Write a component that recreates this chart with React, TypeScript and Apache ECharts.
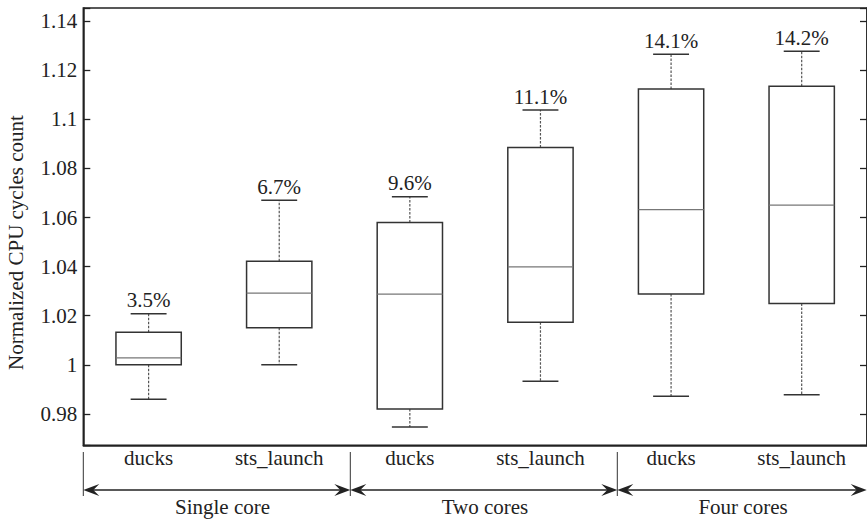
import React, { useEffect, useRef } from "react";
import * as echarts from "echarts";

// Configurations along the x axis, grouped by core count
const categoryLabels = ["ducks", "sts_launch", "ducks", "sts_launch", "ducks", "sts_launch"];
const groupLabels = ["Single core", "Two cores", "Four cores"];

// Five-number summaries of normalized CPU cycle counts
const whiskerLow = [0.986, 1.0, 0.9747, 0.9933, 0.9872, 0.9878];
const boxLow = [1.0, 1.0151, 0.982, 1.0173, 1.0289, 1.025];
const medians = [1.0028, 1.0292, 1.0288, 1.0399, 1.0632, 1.0651];
const boxHigh = [1.0133, 1.0422, 1.058, 1.0886, 1.1124, 1.1135];
const whiskerHigh = [1.0208, 1.0671, 1.0685, 1.1038, 1.1266, 1.1278];

const yMin = 0.9672;
const yMax = 1.1454;
const yStep = 0.02;

const FONT = "Liberation Serif, serif";
const FS = 21;
const INK = "#222";

// spread between the highest and lowest whisker, as a percentage
const spreadLabel = (i: number) =>
  ((whiskerHigh[i] / whiskerLow[i] - 1) * 100).toFixed(1) + "%";

const tickFormatter = (v: number) => {
  const k = v / yStep;
  return Math.abs(k - Math.round(k)) < 1e-6 ? String(+v.toFixed(2)) : "";
};

function arrowHead(tipX: number, y: number, dir: number) {
  // dir = -1 points left, +1 points right
  const L = 16;
  const h = 6;
  const n = 10;
  return {
    type: "polygon",
    shape: {
      points: [
        [tipX, y],
        [tipX - dir * L, y - h],
        [tipX - dir * n, y],
        [tipX - dir * L, y + h],
      ],
    },
    style: { fill: INK },
    silent: true,
  };
}

export default function App() {
  const ref = useRef<HTMLDivElement>(null);

  useEffect(() => {
    if (!ref.current) return;
    const chart = echarts.init(ref.current, undefined, { renderer: "svg" });

    const data = categoryLabels.map((_, i) => [
      i,
      whiskerLow[i],
      boxLow[i],
      medians[i],
      boxHigh[i],
      whiskerHigh[i],
    ]);

    const sepX = [83.3, 350.3, 617.3];
    const arrowY = 490;
    const spans: [number, number][] = [
      [83.3, 350.3],
      [350.3, 617.3],
      [617.3, 866.7],
    ];
    const groupCenters = [222.5, 485, 743];

    const graphics: any[] = [];
    sepX.forEach((x) => {
      graphics.push({
        type: "line",
        shape: { x1: x, y1: 452, x2: x, y2: 496 },
        style: { stroke: "#333", lineWidth: 1 },
        silent: true,
      });
    });
    spans.forEach(([a, b]) => {
      graphics.push({
        type: "line",
        shape: { x1: a + 8, y1: arrowY, x2: b - 8, y2: arrowY },
        style: { stroke: INK, lineWidth: 1.3 },
        silent: true,
      });
      graphics.push(arrowHead(a, arrowY, -1));
      graphics.push(arrowHead(b, arrowY, 1));
    });
    groupLabels.forEach((t, i) => {
      graphics.push({
        type: "text",
        x: groupCenters[i],
        y: 506.7,
        style: {
          text: t,
          fontSize: FS,
          fontFamily: FONT,
          fill: INK,
          align: "center",
          verticalAlign: "middle",
        },
        silent: true,
      });
    });
    graphics.push({
      type: "text",
      x: 16,
      y: 242.5,
      rotation: Math.PI / 2,
      style: {
        text: "Normalized CPU cycles count",
        fontSize: FS,
        fontFamily: FONT,
        fill: INK,
        align: "center",
        verticalAlign: "middle",
      },
      silent: true,
    });

    const yCommon = {
      type: "value",
      min: yMin,
      max: yMax,
      splitNumber: 8,
      minInterval: yStep,
      maxInterval: yStep,
      splitLine: { show: false },
    };

    chart.setOption({
      animation: false,
      backgroundColor: "#fff",
      textStyle: { fontFamily: FONT, fontSize: FS, color: INK },
      grid: {
        left: 83.3,
        top: 8,
        width: 786,
        height: 437.3,
        show: true,
        borderColor: INK,
        borderWidth: 1.5,
        backgroundColor: "transparent",
      },
      xAxis: {
        type: "category",
        data: categoryLabels,
        axisTick: { show: false },
        axisLine: { lineStyle: { color: INK, width: 1.5 } },
        axisLabel: {
          fontSize: FS,
          fontFamily: FONT,
          color: INK,
          margin: 2,
          interval: 0,
        },
      },
      yAxis: [
        {
          ...yCommon,
          position: "left",
          axisLine: { show: true, lineStyle: { color: INK, width: 1.5 } },
          axisTick: { show: true, inside: true, length: 7, lineStyle: { color: INK, width: 1.3 } },
          axisLabel: {
            fontSize: FS,
            fontFamily: FONT,
            color: INK,
            margin: 6,
            formatter: tickFormatter,
          },
        },
        {
          ...yCommon,
          position: "right",
          axisLine: { show: true, lineStyle: { color: INK, width: 1.5 } },
          axisTick: { show: true, inside: true, length: 7, lineStyle: { color: INK, width: 1.3 } },
          axisLabel: { show: false },
        },
      ],
      series: [
        {
          type: "custom",
          clip: false,
          data,
          encode: { x: 0, y: [1, 2, 3, 4, 5] },
          renderItem: (params: any, api: any) => {
            const i = api.value(0);
            const cx = api.coord([i, api.value(3)])[0];
            const pMin = api.coord([i, api.value(1)])[1];
            const pQ1 = api.coord([i, api.value(2)])[1];
            const pMed = api.coord([i, api.value(3)])[1];
            const pQ3 = api.coord([i, api.value(4)])[1];
            const pMax = api.coord([i, api.value(5)])[1];
            const band = api.size([1, 0])[0];
            const bw = band * 0.5;
            const cw = band * 0.275;
            const dashed = { stroke: "#555", lineWidth: 1.2, lineDash: [2.5, 1.5] };
            const solid = { stroke: "#333", lineWidth: 1.5 };
            return {
              type: "group",
              children: [
                { type: "line", shape: { x1: cx, y1: pQ3, x2: cx, y2: pMax }, style: dashed },
                { type: "line", shape: { x1: cx, y1: pQ1, x2: cx, y2: pMin }, style: dashed },
                { type: "line", shape: { x1: cx - cw / 2, y1: pMax, x2: cx + cw / 2, y2: pMax }, style: solid },
                { type: "line", shape: { x1: cx - cw / 2, y1: pMin, x2: cx + cw / 2, y2: pMin }, style: solid },
                {
                  type: "rect",
                  shape: { x: cx - bw / 2, y: pQ3, width: bw, height: pQ1 - pQ3 },
                  style: { fill: "#fff", stroke: "#333", lineWidth: 1.5 },
                },
                {
                  type: "line",
                  shape: { x1: cx - bw / 2, y1: pMed, x2: cx + bw / 2, y2: pMed },
                  style: { stroke: "#777", lineWidth: 1.3 },
                },
                {
                  type: "text",
                  x: cx,
                  y: pMax - 3,
                  style: {
                    text: spreadLabel(params.dataIndex),
                    fontSize: FS,
                    fontFamily: FONT,
                    fill: INK,
                    align: "center",
                    verticalAlign: "bottom",
                  },
                },
              ],
            };
          },
        },
      ],
      graphic: graphics,
    });

    return () => chart.dispose();
  }, []);

  return (
    <div
      ref={ref}
      style={{ position: "fixed", left: 0, top: 0, width: 867, height: 519 }}
    />
  );
}
